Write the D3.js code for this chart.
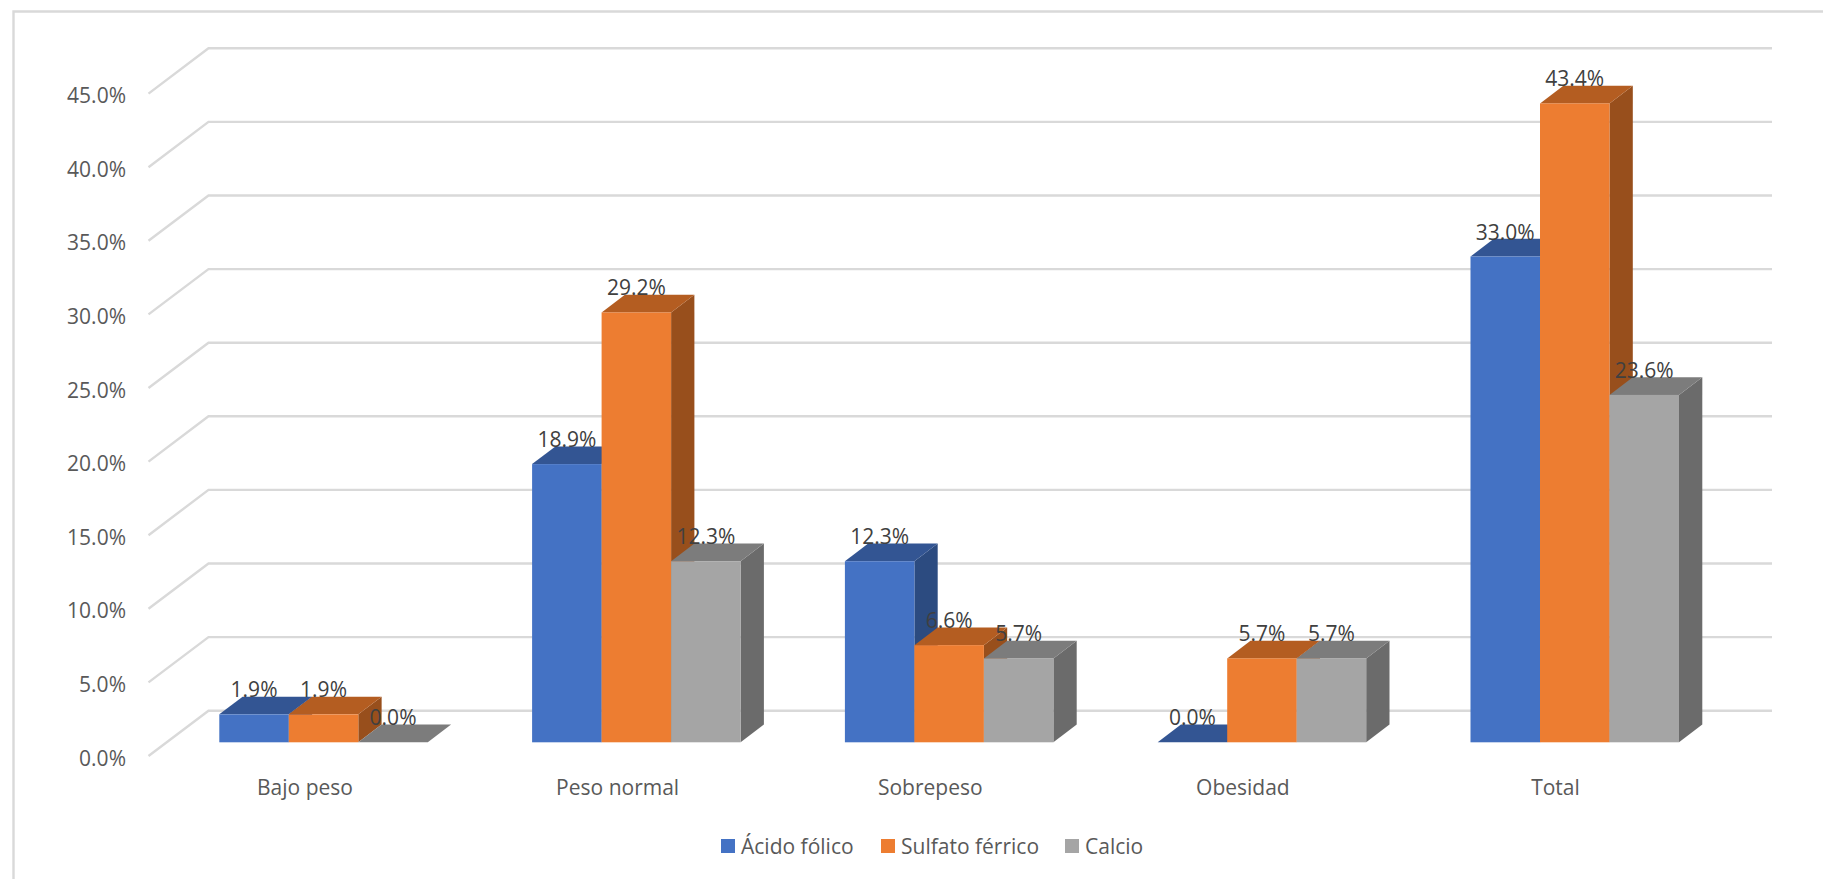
<!DOCTYPE html>
<html><head><meta charset="utf-8">
<script src="https://cdn.jsdelivr.net/npm/d3@7/dist/d3.min.js"></script>
<style>html,body{margin:0;background:#fff}svg{display:block}text{font-family:"Open Sans",sans-serif}</style>
</head><body><script>
const categories=["Bajo peso","Peso normal","Sobrepeso","Obesidad","Total"];
const seriesNames=["Ácido fólico","Sulfato férrico","Calcio"];
const acidoFolico=[1.9,18.9,12.3,0.0,33.0];
const sulfatoFerrico=[1.9,29.2,6.6,5.7,43.4];
const calcio=[0.0,12.3,5.7,5.7,23.6];
const ticks=[0,5,10,15,20,25,30,35,40,45];
const seriesValues=[acidoFolico,sulfatoFerrico,calcio];
const front=["#4472c4","#ed7d31","#a5a5a5"],top_=["#335593","#b45d21","#7c7c7c"],side=["#2c4b80","#984f1c","#6b6b6b"];

const W=1823,H=879;
const svg=d3.select("body").append("svg").attr("width",W).attr("height",H);
const yBar=d3.scaleLinear().domain([0,5]).range([742.3,668.7]);
const yWall=d3.scaleLinear().domain([0,5]).range([710.7,637.1]);
const yTick=d3.scaleLinear().domain([0,5]).range([756,682.4]);
const x0=d3.scaleBand().domain(categories).range([219.3,219.3+312.8*5]).paddingInner(0).paddingOuter(0);
const x1=d3.scaleBand().domain([0,1,2]).range([0,208.5]);
const xLabel=d3.scalePoint().domain(categories).range([305,1555.5]);
const dx=23.3,dy=-17.7;
const fs=21;

// frame
svg.append("path").attr("d",`M13.5,${H}V11.5H${W}`).attr("fill","none").attr("stroke","#d9d9d9").attr("stroke-width",2.4);

// gridlines
ticks.forEach(t=>{
  svg.append("path").attr("fill","none").attr("stroke","#d9d9d9").attr("stroke-width",2.4)
    .attr("d",`M148.5,${yTick(t)}L208.5,${yWall(t)}H1772`);
  svg.append("text").attr("x",126).attr("y",yTick(t)+9.5).attr("text-anchor","end")
    .attr("font-size",fs).attr("fill","#595959").text(t.toFixed(1)+"%");
});

// bars
categories.forEach((c,i)=>{
  seriesValues.forEach((vals,s)=>{
    const x=x0(c)+x1(s),w=x1.bandwidth(),yt=yBar(vals[i]),yb=yBar(0);
    const g=svg.append("g");
    g.append("path").attr("fill",side[s]).attr("d",`M${x+w},${yb}L${x+w+dx},${yb+dy}V${yt+dy}L${x+w},${yt}Z`);
    g.append("path").attr("fill",top_[s]).attr("d",`M${x},${yt}L${x+dx},${yt+dy}H${x+w+dx}L${x+w},${yt}Z`);
    g.append("rect").attr("fill",front[s]).attr("x",x).attr("y",yt).attr("width",w).attr("height",yb-yt);
  });
});
// labels
categories.forEach((c,i)=>{
  seriesValues.forEach((vals,s)=>{
    svg.append("text").attr("x",x0(c)+x1(s)+x1.bandwidth()/2).attr("y",yBar(vals[i])-17)
      .attr("text-anchor","middle").attr("font-size",fs).attr("fill","#404040").text(vals[i].toFixed(1)+"%");
  });
  svg.append("text").attr("x",xLabel(c)).attr("y",795).attr("text-anchor","middle")
    .attr("font-size",fs).attr("fill","#595959").text(c);
});
// legend
const legX=[721,881,1065];
seriesNames.forEach((n,s)=>{
  svg.append("rect").attr("x",legX[s]).attr("y",839).attr("width",14).attr("height",14).attr("fill",front[s]);
  svg.append("text").attr("x",legX[s]+20).attr("y",853.5).attr("font-size",fs).attr("fill","#595959").text(n);
});
</script></body></html>
